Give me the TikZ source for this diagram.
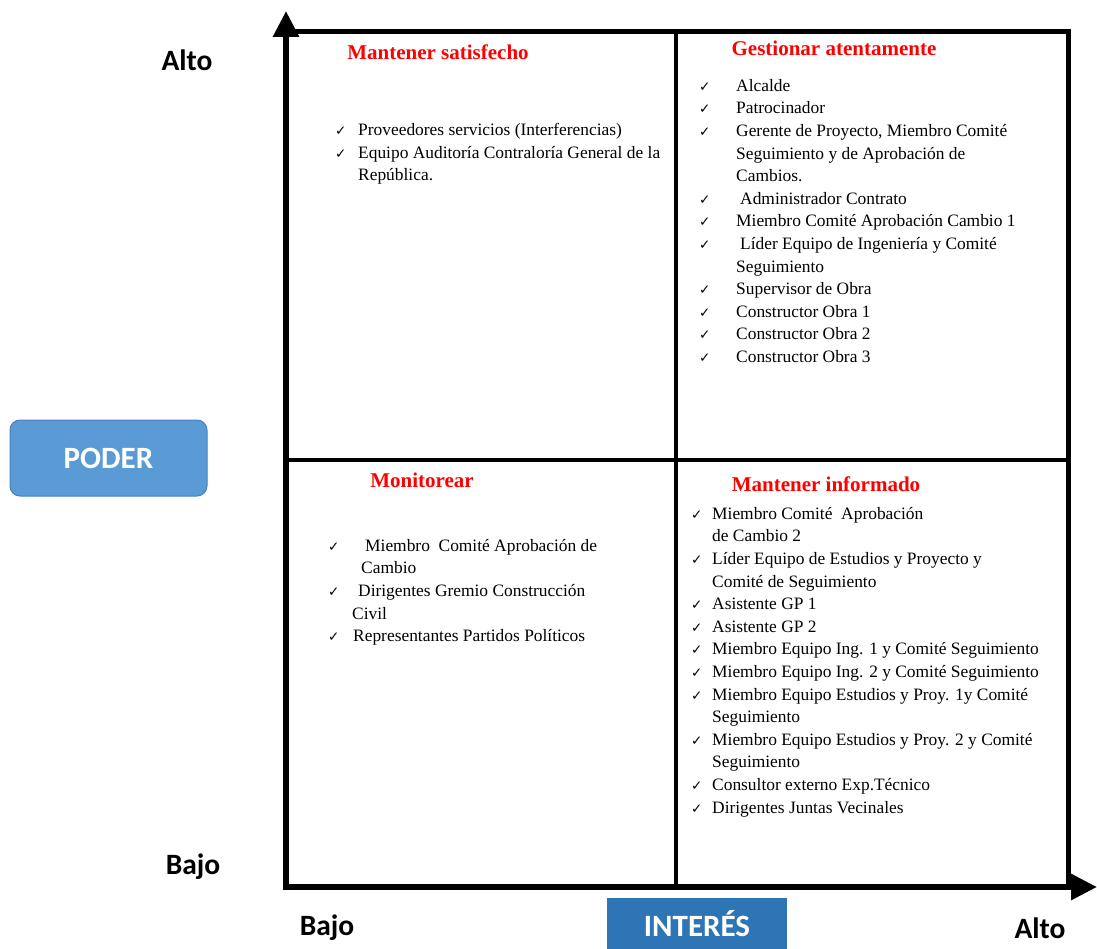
\documentclass[tikz,border=0pt]{standalone}
\usepackage{fontspec}
\setmainfont{Liberation Serif}
\newfontfamily\labfont{Carlito}
\newfontfamily\symfont{DejaVu Sans}
\usetikzlibrary{arrows.meta}
\newcommand\ckm[1]{\makebox[#1pt][l]{\symfont\fontsize{13.5}{13.5}\selectfont ✓}}
\definecolor{poderblue}{RGB}{91,155,213}
\definecolor{poderedge}{RGB}{70,130,190}
\definecolor{interblue}{RGB}{46,117,182}
\tikzset{
  axisline/.style={line width=6pt, -{Triangle[length=26pt,width=25pt]}},
  frameline/.style={line width=5pt},
  midline/.style={line width=4pt},
  quadtitle/.style={text=red, font=\fontsize{21}{24}\selectfont\bfseries, inner sep=0pt},
  itemlist/.style={anchor=north west, inner sep=0pt, align=left, font=\fontsize{17.4}{22.6}\selectfont},
  axlab/.style={font=\labfont\bfseries\fontsize{29.5}{30}\selectfont, inner sep=0pt},
  boxlab/.style={font=\labfont\bfseries\fontsize{31}{32}\selectfont, text=white, inner sep=0pt},
}
\begin{document}
\begin{tikzpicture}[x=1pt,y=-1pt]
\useasboundingbox (0,0) rectangle (1097,949);
% frame coordinates
\coordinate (O) at (286,887);
\coordinate (Ytip) at (286,11);
\coordinate (Xtip) at (1097,887);
\coordinate (TL) at (283,32);
\coordinate (TR) at (1068,32);
\coordinate (BR) at (1068,887);
\coordinate (MT) at (676,32);
\coordinate (MB) at (676,887);
\coordinate (ML) at (286,460);
\coordinate (MR) at (1068,460);
% frame
\draw[frameline] (TL) -- (TR) -- (BR);
\draw[midline] (MT) -- (MB);
\draw[midline] (ML) -- (MR);
\draw[axisline] (286,890) -- (Ytip);
\draw[axisline] (283,887) -- (Xtip);
% titles
\node[quadtitle] (t1) at (438,52) {Mantener satisfecho};
\node[quadtitle] (t2) at (834,48) {Gestionar atentamente};
\node[quadtitle] (t3) at (422,480) {Monitorear};
\node[quadtitle] (t4) at (826,484) {Mantener informado};
% lists
\node[itemlist] (l1) at (335,123) {%
\ckm{23}Proveedores servicios (Interferencias)\\
\ckm{23}Equipo Auditoría Contraloría General de la\\
\hspace*{23pt}República.};
\node[itemlist] (l2) at (699,79) {%
\ckm{37}Alcalde\\
\ckm{37}Patrocinador\\
\ckm{37}Gerente de Proyecto, Miembro Comité\\
\hspace*{37pt}Seguimiento y de Aprobación de\\
\hspace*{37pt}Cambios.\\
\ckm{37}\hspace*{4pt}Administrador Contrato\\
\ckm{37}Miembro Comité Aprobación Cambio 1\\
\ckm{37}\hspace*{4pt}Líder Equipo de Ingeniería y Comité\\
\hspace*{37pt}Seguimiento\\
\ckm{37}Supervisor de Obra\\
\ckm{37}Constructor Obra 1\\
\ckm{37}Constructor Obra 2\\
\ckm{37}Constructor Obra 3};
\node[itemlist] (l3) at (328,539) {%
\ckm{37}Miembro\ \ Comité Aprobación de\\
\hspace*{33pt}Cambio\\
\ckm{30}Dirigentes Gremio Construcción\\
\hspace*{24pt}Civil\\
\ckm{25}Representantes Partidos Políticos};
\node[itemlist] (l4) at (691,507) {%
\ckm{21}Miembro Comité\ \ Aprobación\\
\hspace*{21pt}de Cambio 2\\
\ckm{21}Líder Equipo de Estudios y Proyecto y\\
\hspace*{21pt}Comité de Seguimiento\\
\ckm{21}Asistente GP 1\\
\ckm{21}Asistente GP 2\\
\ckm{21}Miembro Equipo Ing. 1 y Comité Seguimiento\\
\ckm{21}Miembro Equipo Ing. 2 y Comité Seguimiento\\
\ckm{21}Miembro Equipo Estudios y Proy. 1y Comité\\
\hspace*{21pt}Seguimiento\\
\ckm{21}Miembro Equipo Estudios y Proy. 2 y Comité\\
\hspace*{21pt}Seguimiento\\
\ckm{21}Consultor externo Exp.Técnico\\
\ckm{21}Dirigentes Juntas Vecinales};
% axis labels
\node[axlab] (yhigh) at (187,60) {Alto};
\node[axlab] (ylow) at (193,867) {Bajo};
\node[axlab] (xlow) at (327,928) {Bajo};
\node[axlab] (xhigh) at (1040,928) {Alto};
% axis name boxes
\node[boxlab, fill=poderblue, draw=poderedge, line width=1pt, rounded corners=10pt,
      minimum width=197pt, minimum height=76pt] (poder) at (108.5,458) {PODER};
\node[boxlab, fill=interblue, minimum width=180pt, minimum height=52pt] (interes) at (697,924) {INTERÉS};
\end{tikzpicture}
\end{document}
